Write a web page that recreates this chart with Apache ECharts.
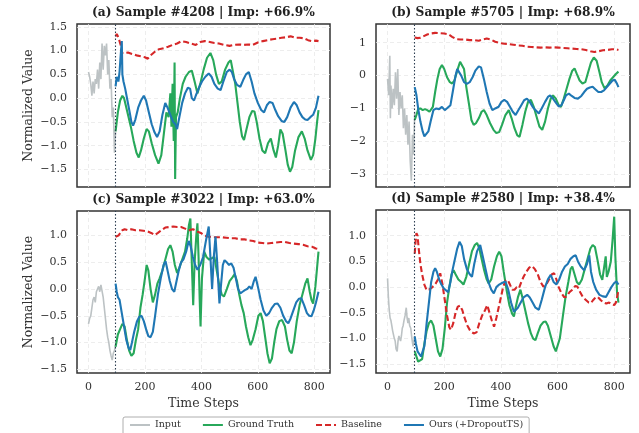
<!DOCTYPE html>
<html><head><meta charset="utf-8">
<script src="https://cdn.jsdelivr.net/npm/echarts@6/dist/echarts.min.js"></script>
<style>html,body{margin:0;padding:0;background:#fff}#c{width:639px;height:433px}</style>
</head><body><div id="c"></div>
<script>
// ---------- data (time step, value) ----------
const titles = ['(a) Sample #4208 | Imp: +66.9%','(b) Sample #5705 | Imp: +68.9%','(c) Sample #3022 | Imp: +63.0%','(d) Sample #2580 | Imp: +38.4%'];
const seriesNames = ['Input','Ground Truth','Baseline','Ours (+DropoutTS)'];
const xTicks = [0,200,400,600,800];
const yTicksA = [-1.5,-1,-0.5,0,0.5,1,1.5];
const yTicksB = [-3,-2,-1,0,1];
const yTicksC = [-1.5,-1,-0.5,0,0.5,1];
const yTicksD = [-1.5,-1,-0.5,0,0.5,1];
const splitStep = 96;

const aInput = [[0,0.55],[4,0.45],[8,0.3],[12,0.05],[16,0.35],[20,0.1],[24,0.4],[28,0.3],[32,0.6],[36,0.2],[40,0.75],[44,0.4],[48,1.15],[52,0.6],[56,1.1],[60,0.9],[64,1.15],[68,0.5],[72,0.8],[76,0.2],[80,0.4],[84,-0.4],[88,-0.2],[92,-1.15],[96,-0.7]];
const aTruth = [[96,-0.7],[104,-0.3],[112,-0.05],[120,0.05],[126,0.0],[132,-0.15],[140,-0.35],[150,-0.6],[160,-0.9],[170,-1.15],[178,-1.25],[186,-1.1],[196,-0.85],[206,-0.65],[214,-0.7],[224,-0.95],[236,-1.2],[248,-1.38],[258,-1.2],[268,-0.7],[276,-0.3],[284,-0.4],[290,0.1],[294,-0.6],[298,0.3],[302,-0.9],[305,0.75],[307,-1.7],[310,-0.4],[316,-0.3],[324,0.0],[334,0.3],[344,0.45],[356,0.55],[366,0.58],[376,0.35],[386,0.1],[396,0.3],[408,0.6],[420,0.85],[432,0.95],[442,0.8],[452,0.5],[462,0.3],[472,0.35],[484,0.6],[496,0.75],[504,0.8],[512,0.55],[520,0.3],[528,-0.1],[536,-0.5],[544,-0.8],[551,-0.88],[560,-0.65],[570,-0.4],[580,-0.27],[588,-0.28],[596,-0.5],[606,-0.85],[616,-1.1],[626,-1.16],[636,-0.95],[646,-0.85],[656,-1.1],[664,-1.25],[672,-1.0],[680,-0.66],[688,-0.75],[698,-1.1],[706,-1.4],[714,-1.55],[722,-1.45],[732,-1.1],[744,-0.82],[756,-0.7],[766,-0.85],[776,-1.1],[788,-1.3],[796,-1.2],[804,-0.85],[810,-0.5],[815,-0.25]];
const aBase = [[96,1.3],[100,1.35],[106,1.28],[110,1.3],[114,1.12],[118,0.95],[126,0.95],[140,0.96],[154,0.93],[170,0.9],[186,0.88],[200,0.86],[210,0.83],[220,0.9],[236,0.98],[250,1.03],[266,1.05],[282,1.08],[298,1.12],[314,1.15],[330,1.2],[346,1.18],[362,1.15],[380,1.12],[396,1.18],[412,1.2],[430,1.18],[446,1.16],[462,1.15],[480,1.12],[500,1.1],[516,1.12],[534,1.13],[550,1.12],[566,1.13],[582,1.12],[600,1.17],[618,1.2],[634,1.22],[652,1.24],[668,1.25],[684,1.27],[700,1.28],[716,1.3],[732,1.27],[748,1.27],[764,1.26],[778,1.22],[792,1.2],[806,1.21],[815,1.2]];
const aOurs = [[96,0.25],[100,0.45],[106,0.35],[110,0.55],[114,0.9],[118,1.2],[120,0.5],[124,0.35],[130,0.2],[138,-0.05],[146,-0.3],[152,-0.5],[158,-0.58],[166,-0.45],[176,-0.2],[186,-0.05],[196,0.05],[204,-0.05],[214,-0.3],[224,-0.55],[234,-0.72],[243,-0.82],[252,-0.7],[262,-0.35],[272,-0.1],[280,-0.2],[290,-0.35],[300,-0.5],[308,-0.55],[314,-0.65],[322,-0.4],[332,-0.1],[342,0.1],[352,0.22],[360,0.2],[366,0.0],[374,-0.05],[380,0.05],[390,0.2],[402,0.35],[414,0.45],[426,0.52],[436,0.45],[446,0.3],[458,0.2],[468,0.17],[478,0.35],[490,0.55],[500,0.6],[508,0.55],[516,0.4],[526,0.28],[538,0.24],[548,0.38],[558,0.5],[568,0.55],[578,0.35],[588,0.1],[600,-0.1],[612,-0.25],[622,-0.3],[632,-0.15],[642,-0.08],[652,-0.1],[662,-0.25],[672,-0.38],[684,-0.48],[694,-0.5],[704,-0.4],[716,-0.2],[728,-0.08],[738,-0.15],[748,-0.3],[758,-0.4],[768,-0.45],[776,-0.46],[786,-0.4],[796,-0.35],[806,-0.2],[815,0.05]];

const bInput = [[0,-0.1],[4,-0.6],[8,0.6],[10,-1.3],[12,-0.3],[16,-1.0],[20,-0.4],[24,-0.9],[28,0.1],[32,-0.7],[36,0.2],[40,-1.2],[44,-0.5],[48,-1.0],[52,-0.6],[56,-1.6],[60,-1.0],[64,-1.8],[68,-1.2],[72,-2.1],[76,-1.4],[80,-2.6],[84,-3.2],[88,-1.8],[92,-2.4],[96,-1.1]];
const bTruth = [[96,-1.35],[102,-1.2],[108,-1.02],[116,-1.0],[124,-1.05],[132,-1.02],[140,-1.05],[148,-1.1],[154,-1.15],[160,-0.95],[168,-0.5],[176,-0.1],[184,0.2],[192,0.32],[200,0.2],[210,-0.05],[220,-0.2],[228,-0.24],[236,-0.15],[246,0.15],[256,0.42],[262,0.47],[270,0.2],[278,-0.35],[288,-0.9],[296,-1.35],[304,-1.5],[312,-1.45],[322,-1.3],[332,-1.1],[340,-1.05],[350,-1.2],[362,-1.45],[374,-1.65],[384,-1.75],[394,-1.72],[404,-1.5],[416,-1.2],[428,-1.05],[438,-1.3],[448,-1.6],[458,-1.82],[466,-1.86],[476,-1.5],[486,-1.1],[496,-0.8],[506,-0.74],[516,-0.95],[526,-1.25],[536,-1.55],[546,-1.65],[556,-1.4],[566,-1.0],[576,-0.7],[584,-0.6],[594,-0.7],[604,-0.9],[612,-0.95],[622,-0.7],[632,-0.4],[642,-0.1],[652,0.15],[660,0.22],[668,0.05],[678,-0.15],[688,-0.24],[698,-0.2],[708,0.1],[718,0.4],[728,0.55],[738,0.45],[748,0.1],[756,-0.2],[766,-0.39],[776,-0.3],[786,-0.15],[796,-0.05],[806,0.05],[815,0.12]];
const bBase = [[96,1.16],[106,1.14],[116,1.15],[128,1.2],[140,1.25],[152,1.28],[168,1.3],[184,1.29],[200,1.28],[214,1.26],[228,1.18],[242,1.11],[258,1.1],[274,1.1],[290,1.08],[306,1.08],[322,1.06],[336,1.1],[350,1.13],[364,1.1],[380,1.03],[396,0.99],[412,0.97],[428,0.96],[444,0.94],[460,0.92],[476,0.91],[492,0.88],[508,0.87],[524,0.86],[540,0.85],[556,0.86],[572,0.85],[588,0.86],[604,0.85],[620,0.84],[636,0.83],[652,0.82],[668,0.81],[684,0.8],[700,0.78],[716,0.74],[730,0.72],[744,0.74],[760,0.77],[776,0.78],[792,0.8],[806,0.8],[815,0.78]];
const bOurs = [[96,-0.35],[102,-0.6],[108,-1.0],[116,-1.4],[124,-1.7],[130,-1.85],[136,-1.9],[144,-1.7],[152,-1.4],[162,-1.05],[172,-1.0],[182,-1.02],[192,-0.95],[202,-1.05],[212,-0.98],[222,-0.9],[232,-0.4],[240,0.0],[246,0.2],[252,0.15],[260,0.0],[270,-0.2],[280,-0.25],[290,-0.2],[300,-0.05],[310,0.15],[322,0.28],[330,0.25],[340,-0.1],[350,-0.5],[360,-0.85],[370,-1.05],[380,-1.0],[392,-0.95],[402,-0.8],[412,-0.74],[422,-0.8],[432,-0.95],[442,-1.1],[452,-1.2],[462,-1.05],[472,-0.9],[482,-0.75],[492,-0.7],[502,-0.8],[512,-0.95],[522,-1.05],[534,-1.15],[544,-1.0],[556,-0.8],[566,-0.65],[574,-0.6],[584,-0.7],[594,-0.82],[604,-0.94],[614,-0.9],[622,-0.75],[630,-0.6],[640,-0.55],[650,-0.62],[660,-0.68],[672,-0.7],[684,-0.62],[694,-0.5],[704,-0.4],[714,-0.36],[724,-0.34],[734,-0.42],[744,-0.5],[754,-0.5],[764,-0.45],[774,-0.35],[784,-0.25],[794,-0.15],[802,-0.13],[810,-0.25],[815,-0.35]];

const cInput = [[0,-0.65],[4,-0.55],[8,-0.5],[12,-0.35],[16,-0.2],[20,-0.15],[24,-0.25],[28,-0.05],[32,0.0],[36,0.05],[40,-0.05],[44,0.08],[48,0.05],[52,-0.15],[56,-0.35],[60,-0.55],[64,-0.75],[68,-0.9],[72,-1.0],[76,-1.15],[80,-1.25],[84,-1.33],[88,-1.2],[92,-1.15],[96,-1.05]];
const cTruth = [[96,-1.08],[104,-0.85],[112,-0.75],[120,-0.65],[128,-0.7],[136,-0.95],[144,-1.15],[152,-1.25],[160,-1.2],[168,-0.95],[176,-0.75],[184,-0.35],[192,-0.1],[200,0.2],[206,0.45],[212,0.35],[220,0.0],[228,-0.25],[236,-0.1],[244,0.1],[252,0.2],[262,0.35],[272,0.55],[282,0.75],[290,0.82],[298,0.7],[306,0.45],[314,0.3],[322,0.4],[332,0.55],[342,0.7],[350,0.95],[356,1.2],[361,1.32],[366,0.5],[371,-0.3],[376,0.5],[382,1.0],[386,1.23],[390,0.6],[394,-0.2],[397,-0.7],[402,0.2],[410,0.7],[418,0.6],[428,0.55],[438,0.58],[446,0.6],[456,0.3],[464,0.05],[472,-0.1],[480,-0.14],[490,0.0],[500,0.15],[510,0.22],[518,0.28],[526,0.15],[534,-0.1],[542,-0.3],[550,-0.45],[558,-0.7],[566,-0.9],[574,-1.05],[582,-0.95],[592,-0.75],[602,-0.5],[610,-0.45],[618,-0.6],[626,-0.9],[634,-1.2],[642,-1.39],[650,-1.3],[658,-1.0],[666,-0.75],[676,-0.6],[686,-0.58],[696,-0.7],[704,-0.95],[712,-1.15],[720,-1.2],[728,-1.0],[738,-0.6],[748,-0.3],[758,-0.1],[768,0.1],[776,0.2],[784,-0.05],[790,-0.2],[796,-0.27],[804,0.05],[810,0.4],[815,0.7]];
const cBase = [[96,0.98],[100,0.95],[106,1.0],[112,1.02],[120,1.1],[128,1.12],[140,1.1],[152,1.12],[166,1.1],[180,1.1],[194,1.09],[208,1.08],[222,1.05],[234,1.01],[246,1.05],[258,1.1],[272,1.15],[286,1.16],[300,1.17],[314,1.16],[328,1.16],[342,1.13],[356,1.1],[370,1.12],[384,1.08],[398,1.05],[412,1.0],[426,0.98],[440,0.97],[456,0.97],[472,0.97],[488,0.96],[504,0.95],[520,0.95],[536,0.93],[552,0.93],[568,0.91],[584,0.9],[600,0.87],[616,0.86],[632,0.85],[648,0.86],[664,0.87],[680,0.88],[696,0.88],[712,0.86],[728,0.85],[744,0.84],[760,0.83],[776,0.8],[792,0.79],[806,0.76],[815,0.75]];
const cOurs = [[96,0.1],[100,-0.05],[104,-0.15],[110,-0.2],[118,-0.45],[126,-0.7],[134,-0.95],[142,-1.1],[148,-1.14],[154,-1.0],[162,-0.8],[172,-0.6],[180,-0.52],[188,-0.5],[196,-0.6],[204,-0.75],[212,-0.88],[220,-0.9],[228,-0.8],[236,-0.5],[246,-0.1],[256,0.2],[266,0.45],[273,0.52],[280,0.35],[288,0.15],[296,0.0],[304,-0.05],[312,0.15],[320,0.35],[328,0.5],[336,0.55],[346,0.7],[355,0.9],[362,0.8],[370,0.6],[378,0.45],[386,0.36],[396,0.45],[406,0.6],[416,0.9],[426,1.17],[432,0.6],[438,0.0],[444,0.6],[450,0.98],[456,0.5],[464,-0.27],[470,0.1],[476,0.45],[482,0.54],[490,0.5],[498,0.45],[506,0.48],[514,0.4],[522,0.2],[530,0.0],[538,-0.08],[546,-0.05],[554,-0.02],[562,0.0],[570,0.05],[578,0.0],[586,0.15],[592,0.23],[600,0.05],[610,-0.2],[620,-0.4],[630,-0.5],[640,-0.45],[650,-0.35],[660,-0.28],[670,-0.27],[680,-0.35],[690,-0.5],[700,-0.6],[708,-0.64],[716,-0.55],[726,-0.4],[736,-0.25],[746,-0.18],[754,-0.17],[764,-0.3],[774,-0.45],[782,-0.5],[790,-0.51],[798,-0.4],[806,-0.25],[815,-0.05]];

const dInput = [[0,0.17],[3,-0.2],[6,-0.45],[9,-0.6],[12,-0.65],[15,-0.75],[18,-0.85],[21,-0.85],[24,-1.0],[27,-1.05],[30,-1.2],[34,-1.25],[37,-1.05],[40,-0.95],[43,-1.0],[46,-1.05],[49,-0.95],[52,-0.8],[55,-0.75],[58,-0.65],[62,-0.55],[66,-0.4],[69,-0.6],[72,-0.7],[75,-0.6],[78,-0.75],[82,-0.8],[86,-1.0],[90,-1.15],[93,-1.05],[96,-0.95]];
const dTruth = [[96,-1.25],[102,-1.35],[108,-1.45],[115,-1.48],[122,-1.4],[130,-1.1],[138,-0.85],[146,-0.7],[154,-0.65],[162,-0.75],[170,-1.0],[178,-1.25],[186,-1.35],[194,-1.2],[202,-0.8],[210,-0.3],[218,0.0],[226,0.25],[233,0.33],[240,0.25],[250,0.15],[260,0.1],[268,0.05],[278,0.2],[288,0.45],[298,0.7],[308,0.82],[316,0.86],[324,0.75],[332,0.55],[340,0.35],[350,0.15],[357,0.07],[366,0.15],[376,0.4],[386,0.6],[394,0.69],[402,0.6],[410,0.3],[420,-0.05],[430,-0.35],[440,-0.52],[446,-0.57],[452,-0.4],[460,-0.2],[469,-0.05],[476,-0.2],[486,-0.45],[496,-0.7],[506,-0.9],[514,-1.0],[522,-1.03],[530,-0.9],[540,-0.75],[550,-0.68],[558,-0.67],[566,-0.75],[576,-0.95],[586,-1.15],[594,-1.25],[600,-1.27],[608,-1.0],[618,-0.6],[628,-0.2],[638,0.1],[646,0.35],[652,0.4],[660,0.25],[668,0.1],[676,0.05],[686,0.15],[696,0.35],[706,0.55],[716,0.75],[724,0.82],[732,0.78],[742,0.5],[750,0.25],[758,0.14],[764,0.15],[770,0.6],[774,0.2],[780,0.3],[788,0.5],[794,0.9],[800,1.37],[804,0.6],[810,-0.1],[815,-0.3]];
const dBase = [[96,0.65],[99,0.9],[102,1.05],[106,1.0],[110,0.75],[116,0.45],[122,0.25],[130,0.05],[138,-0.06],[146,-0.05],[154,-0.02],[162,0.02],[170,0.07],[178,0.15],[186,0.27],[194,0.05],[202,-0.25],[210,-0.55],[218,-0.78],[224,-0.83],[232,-0.7],[240,-0.5],[248,-0.38],[256,-0.36],[264,-0.45],[272,-0.6],[282,-0.75],[292,-0.85],[304,-0.9],[314,-0.88],[324,-0.7],[334,-0.55],[344,-0.45],[352,-0.35],[360,-0.5],[368,-0.65],[376,-0.77],[384,-0.6],[392,-0.4],[400,-0.2],[408,0.0],[416,0.12],[424,0.14],[432,0.05],[440,-0.05],[448,-0.05],[456,0.0],[464,-0.02],[472,0.1],[480,0.2],[490,0.3],[500,0.38],[510,0.41],[520,0.35],[530,0.25],[540,0.1],[550,0.01],[560,0.05],[570,0.15],[580,0.25],[588,0.27],[596,0.15],[604,0.0],[614,-0.12],[624,-0.2],[632,-0.18],[642,-0.1],[652,-0.05],[662,0.02],[670,0.01],[680,-0.1],[690,-0.2],[700,-0.25],[710,-0.3],[718,-0.31],[726,-0.25],[734,-0.2],[742,-0.19],[752,-0.25],[762,-0.3],[772,-0.32],[782,-0.3],[792,-0.33],[800,-0.35],[806,-0.3],[812,-0.15],[815,-0.05]];
const dOurs = [[96,-0.96],[100,-1.1],[106,-1.25],[112,-1.3],[118,-1.35],[124,-1.25],[130,-1.15],[138,-0.7],[146,-0.3],[154,0.1],[162,0.3],[168,0.37],[174,0.3],[182,0.15],[190,0.05],[198,-0.02],[206,-0.06],[214,-0.1],[222,0.1],[230,0.35],[238,0.55],[246,0.75],[254,0.88],[262,0.8],[270,0.55],[280,0.35],[290,0.25],[298,0.2],[306,0.45],[316,0.7],[327,0.82],[336,0.6],[346,0.35],[356,0.1],[366,-0.05],[375,-0.12],[384,0.0],[394,0.05],[404,0.08],[416,0.11],[426,-0.05],[436,-0.3],[446,-0.48],[452,-0.51],[460,-0.4],[470,-0.3],[480,-0.2],[493,-0.15],[502,-0.2],[512,-0.3],[522,-0.4],[534,-0.44],[544,-0.25],[556,0.0],[566,0.15],[576,0.24],[586,0.1],[596,0.05],[606,0.15],[616,0.3],[626,0.4],[636,0.45],[646,0.55],[656,0.6],[664,0.62],[672,0.5],[682,0.4],[694,0.33],[704,0.45],[712,0.62],[718,0.3],[726,0.1],[736,-0.05],[748,-0.15],[760,-0.18],[771,-0.19],[780,-0.1],[790,0.0],[800,0.08],[808,0.11],[815,0.05]];

// ---------- layout / style ----------
const FONT = 'DejaVu Serif';
const grids = [
  {left:77, top:24, width:253, height:163},
  {left:376, top:24, width:254, height:163},
  {left:77, top:211, width:253, height:162},
  {left:376, top:210, width:254, height:163}
];
const yRanges = [[-1.87,1.56],[-3.39,1.57],[-1.57,1.46],[-1.67,1.50]];
const yTicks = [yTicksA, yTicksB, yTicksC, yTicksD];
const panels = [[aInput,aTruth,aBase,aOurs],[bInput,bTruth,bBase,bOurs],[cInput,cTruth,cBase,cOurs],[dInput,dTruth,dBase,dOurs]];
const colors = ['#bcc2c4','#27a85a','#d62728','#1f77b4'];
const widths = [1.6,2.1,2.1,2.1];

const fmtMinus = s => s.replace('-', '\u2212');
const xAxes = [], yAxes = [], series = [], titleOpts = [];
grids.forEach((g, i) => {
  const bottomRow = i >= 2;
  xAxes.push({
    type:'value', gridIndex:i, min:-40.75, max:855.75,
    axisLine:{show:false}, axisTick:{show:false, customValues:xTicks},
    axisLabel:{show:bottomRow, customValues:xTicks, fontFamily:FONT, fontSize:11, color:'#333', margin:9},
    splitLine:{show:true, lineStyle:{color:'#e8e8e8', type:[4,3], width:0.8}},
    name: bottomRow ? 'Time Steps' : '', nameLocation:'middle', nameGap:24,
    nameTextStyle:{fontFamily:FONT, fontSize:12.5, color:'#333'}
  });
  yAxes.push({
    type:'value', gridIndex:i, min:yRanges[i][0], max:yRanges[i][1],
    axisLine:{show:false}, axisTick:{show:false, customValues:yTicks[i]},
    axisLabel:{customValues:yTicks[i], fontFamily:FONT, fontSize:11, color:'#333', margin:10,
      formatter: v => fmtMinus(i === 1 ? String(Math.round(v)) : Number(v).toFixed(1))},
    splitLine:{show:true, lineStyle:{color:'#e8e8e8', type:[4,3], width:0.8}},
    name: (i % 2 === 0) ? 'Normalized Value' : '', nameLocation:'middle', nameGap:42,
    nameTextStyle:{fontFamily:FONT, fontSize:12.5, color:'#333'}
  });
  titleOpts.push({
    text: titles[i], left: g.left + g.width/2, top: g.top - 17, textAlign:'center', padding:0,
    textStyle:{fontFamily:FONT, fontWeight:'bold', fontSize:12.2, color:'#222'}
  });
  panels[i].forEach((d, k) => {
    const s = {
      name: seriesNames[k], type:'line', xAxisIndex:i, yAxisIndex:i, data:d,
      symbol:'none', showSymbol:false, animation:false, z: 2 + k,
      lineStyle:{color:colors[k], width:widths[k], type: k === 2 ? [6,3] : 'solid'},
      itemStyle:{color:colors[k]}
    };
    if (k === 0) {
      s.markLine = {silent:true, symbol:'none', animation:false, label:{show:false},
        lineStyle:{color:'#2c3e50', type:[1.5,2], width:1.1},
        data:[{xAxis:splitStep}]};
    }
    series.push(s);
  });
});

const chart = echarts.init(document.getElementById('c'), null, {renderer:'canvas', width:639, height:433});
chart.setOption({
  backgroundColor:'#fff',
  animation:false,
  title: titleOpts,
  grid: grids.map(g => Object.assign({show:true, borderColor:'#333', borderWidth:1.5, backgroundColor:'transparent'}, g)),
  xAxis: xAxes, yAxis: yAxes, series: series,
  legend: {
    data: seriesNames, left:123, top:417, orient:'horizontal',
    itemWidth:20, itemHeight:10, itemGap:21,
    itemStyle:{opacity:0},
    lineStyle:{width:2},
    borderColor:'#999', borderWidth:0.8, borderRadius:2, padding:[3,6,8,6],
    textStyle:{fontFamily:FONT, fontSize:9.5, color:'#333'}
  }
});
</script></body></html>
